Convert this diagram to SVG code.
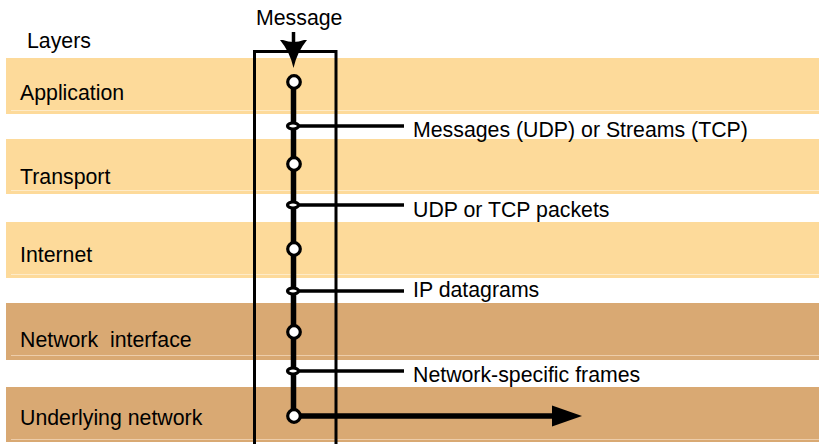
<svg xmlns="http://www.w3.org/2000/svg" width="819" height="444" viewBox="0 0 819 444">
<style>
.t{font-family:"Liberation Sans",Arial,sans-serif;font-size:21.3px;fill:#000}
.lb{fill:#FDDA9A}
.db{fill:#D9A973}
.ll{stroke:#FEEBC8;stroke-width:1}
.dl{stroke:#EDCDAA;stroke-width:1}
.br{stroke:#000;stroke-width:3.5;fill:none}
.c{fill:#fff;stroke:#000;stroke-width:3.2}
</style>
<rect width="819" height="444" fill="#fff"/>
<g id="layers">
<text class="t" x="27" y="48">Layers</text>
<g id="application"><rect class="lb" x="6" y="58" width="813" height="56"/><line class="ll" x1="11" y1="110.5" x2="819" y2="110.5"/><text class="t" x="20" y="100">Application</text></g>
<g id="transport"><rect class="lb" x="6" y="139" width="813" height="55"/><line class="ll" x1="11" y1="190.5" x2="819" y2="190.5"/><text class="t" x="20" y="184">Transport</text></g>
<g id="internet"><rect class="lb" x="6" y="222" width="813" height="56"/><line class="ll" x1="11" y1="274.5" x2="819" y2="274.5"/><text class="t" x="20" y="262">Internet</text></g>
<g id="network-interface"><rect class="db" x="6" y="303" width="813" height="57"/><line class="dl" x1="11" y1="355.5" x2="819" y2="355.5"/><text class="t" x="20" y="347" xml:space="preserve">Network  interface</text></g>
<g id="underlying-network"><rect class="db" x="6" y="387" width="813" height="55"/><line class="dl" x1="11" y1="439.5" x2="819" y2="439.5"/><text class="t" x="20" y="425">Underlying network</text></g>
</g>
<g id="host-box">
<path d="M254.5 446 V51.5 H336 V446" fill="none" stroke="#000" stroke-width="3"/>
<text class="t" x="256" y="25">Message</text>
</g>
<g id="connectors">
<line x1="293.5" y1="32" x2="293.5" y2="44" stroke="#000" stroke-width="3.5"/>
<path d="M283,40 Q293.5,44 304,40 L307,40 Q297,52 293.5,68 Q290,52 280,40 Z" fill="#000"/>
<line x1="293.5" y1="82" x2="293.5" y2="416" stroke="#000" stroke-width="5.5"/>
<line class="br" x1="293" y1="126" x2="404" y2="126"/>
<line class="br" x1="293" y1="205" x2="404" y2="205"/>
<line class="br" x1="293" y1="291" x2="404" y2="291"/>
<line class="br" x1="293" y1="371" x2="404" y2="371"/>
<line x1="294" y1="416" x2="556" y2="416" stroke="#000" stroke-width="5.5"/>
<polygon points="552,405.5 582,416 552,426.5" fill="#000"/>
</g>
<g id="nodes">
<circle class="c" cx="294" cy="82" r="6.3"/>
<circle class="c" cx="294" cy="164" r="6.3"/>
<circle class="c" cx="294" cy="249" r="6.3"/>
<circle class="c" cx="294" cy="332" r="6.3"/>
<circle class="c" cx="294" cy="416" r="6.3"/>
<ellipse class="c" cx="293" cy="126" rx="5.5" ry="3"/>
<ellipse class="c" cx="293" cy="205" rx="5.5" ry="3"/>
<ellipse class="c" cx="293" cy="291" rx="5.5" ry="3"/>
<ellipse class="c" cx="293" cy="371" rx="5.5" ry="3"/>
</g>
<g id="labels">
<text class="t" x="413" y="137">Messages (UDP) or Streams (TCP)</text>
<text class="t" x="413" y="217">UDP or TCP packets</text>
<text class="t" x="413" y="297">IP datagrams</text>
<text class="t" x="413" y="382">Network-specific frames</text>
</g>
</svg>
